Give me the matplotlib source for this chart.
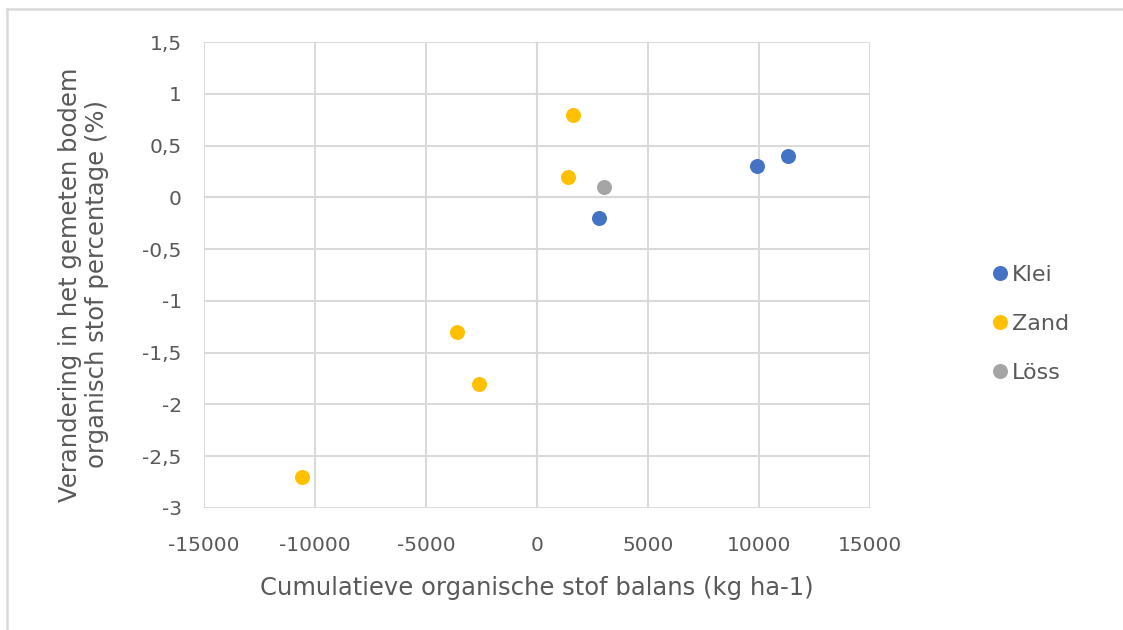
import matplotlib
matplotlib.use("Agg")
import matplotlib.pyplot as plt
from matplotlib.lines import Line2D
from matplotlib.ticker import FuncFormatter

# soil organic matter balance vs. measured change, per soil type
klei_x = [2800, 9900, 11300]
klei_y = [-0.2, 0.3, 0.4]
zand_x = [1600, 1400, -3600, -2600, -10600]
zand_y = [0.8, 0.2, -1.3, -1.8, -2.7]
loss_x = [3000]
loss_y = [0.1]

series = [
    ("Klei", klei_x, klei_y, "#4472C4"),
    ("Zand", zand_x, zand_y, "#FFC000"),
    ("Löss", loss_x, loss_y, "#A5A5A5"),
]

x_ticks = [-15000, -10000, -5000, 0, 5000, 10000, 15000]
y_ticks = [-3, -2.5, -2, -1.5, -1, -0.5, 0, 0.5, 1, 1.5]

TEXT = "#595959"
GRID = "#D9D9D9"
ZERO = "#BFBFBF"

plt.rcParams["font.family"] = ["DejaVu Sans"]
plt.rcParams["axes.unicode_minus"] = False

fig = plt.figure(figsize=(11.23, 6.30), dpi=100)
ax = fig.add_axes([0.1817, 0.1937, 0.5930, 0.7396])

for name, xs, ys, color in series:
    ax.plot(xs, ys, "o", color=color, markersize=10.8, markeredgewidth=0,
            label=name, zorder=3)

ax.set_xlim(-15000, 15000)
ax.set_ylim(-3, 1.5)
ax.set_xticks(x_ticks)
ax.set_yticks(y_ticks)
ax.xaxis.set_major_formatter(FuncFormatter(lambda v, _: f"{v:g}"))
ax.yaxis.set_major_formatter(FuncFormatter(lambda v, _: f"{v:g}".replace(".", ",")))
ax.grid(True, color=GRID, linewidth=1.4, zorder=0)
ax.axhline(0, color=ZERO, linewidth=1.5, zorder=1)
ax.axvline(0, color=ZERO, linewidth=1.5, zorder=1)
for sp in ax.spines.values():
    sp.set_visible(False)
ax.tick_params(length=0, labelsize=14.5, labelcolor=TEXT)
ax.tick_params(axis="x", pad=20)
ax.tick_params(axis="y", pad=16)

ax.set_xlabel("Cumulatieve organische stof balans (kg ha-1)", fontsize=17.5,
              color=TEXT, labelpad=15)
ax.set_ylabel("Verandering in het gemeten bodem\norganisch stof percentage (%)",
              fontsize=17.5, color=TEXT, linespacing=1.15)
ax.yaxis.set_label_coords(-0.143, 0.48)

ax.legend(loc="center left", bbox_to_anchor=(1.165, 0.395), frameon=False,
          fontsize=16, labelcolor=TEXT, handletextpad=0.05, labelspacing=1.3,
          handlelength=1.0, borderaxespad=0)

# chart frame, top and left edges
fig.add_artist(Line2D([7 / 1123, 1.0], [1 - 9 / 630] * 2, color=GRID, linewidth=1.8))
fig.add_artist(Line2D([7 / 1123] * 2, [0, 1 - 9 / 630], color=GRID, linewidth=1.8))

fig.savefig("out.png", dpi=100)
